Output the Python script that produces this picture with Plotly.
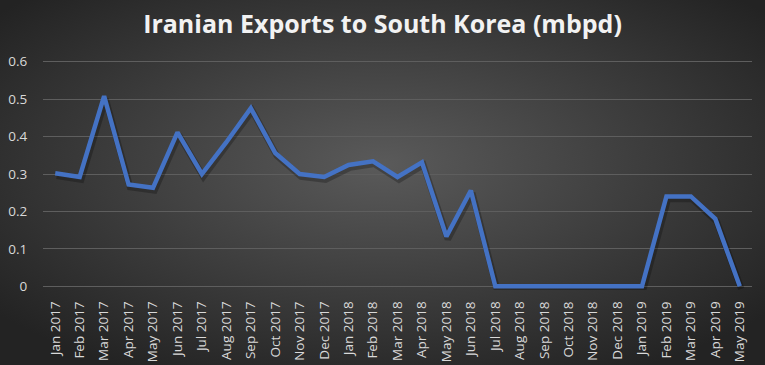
import plotly.graph_objects as go
import base64

months = ["Jan 2017", "Feb 2017", "Mar 2017", "Apr 2017", "May 2017", "Jun 2017", "Jul 2017",
          "Aug 2017", "Sep 2017", "Oct 2017", "Nov 2017", "Dec 2017", "Jan 2018", "Feb 2018",
          "Mar 2018", "Apr 2018", "May 2018", "Jun 2018", "Jul 2018", "Aug 2018", "Sep 2018",
          "Oct 2018", "Nov 2018", "Dec 2018", "Jan 2019", "Feb 2019", "Mar 2019", "Apr 2019",
          "May 2019"]
exports = [0.302, 0.292, 0.508, 0.272, 0.263, 0.411, 0.300, 0.385, 0.476, 0.356, 0.300,
           0.292, 0.324, 0.334, 0.292, 0.331, 0.133, 0.256, 0.0, 0.0, 0.0, 0.0, 0.0, 0.0,
           0.0, 0.240, 0.240, 0.180, 0.0]
y_ticks = [0, 0.1, 0.2, 0.3, 0.4, 0.5, 0.6]
y_tick_text = ["0", "0.1", "0.2", "0.3", "0.4", "0.5", "0.6"]

svg = """<svg xmlns='http://www.w3.org/2000/svg' width='765' height='365' preserveAspectRatio='none'>
<defs><radialGradient id='g' cx='50%' cy='45%' r='65%'>
<stop offset='0%' stop-color='#5a5a5a'/><stop offset='100%' stop-color='#232323'/>
</radialGradient></defs><rect width='765' height='365' fill='url(#g)'/></svg>"""
bg_src = "data:image/svg+xml;base64," + base64.b64encode(svg.encode()).decode()

L, R, T, B = 43, 13, 58, 75
PW, PH = 765 - L - R, 365 - T - B
XR = [-0.5, 28.5]
YR = [-0.01, 0.61]
dx, dy = 0.06, 0.007  # shadow offset (about 1.5px right, 2.5px down)

fig = go.Figure()
# soft shadow on hidden primary axes (slightly offset ranges)
fig.add_trace(go.Scatter(
    x=months, y=exports, mode="lines", xaxis="x", yaxis="y",
    line=dict(color="rgba(0,0,0,0.25)", width=6.5),
    hoverinfo="skip", showlegend=False,
))
# main line on the visible overlay axes
fig.add_trace(go.Scatter(
    x=months, y=exports, mode="lines", xaxis="x2", yaxis="y2",
    line=dict(color="#4472C4", width=4.5),
    hoverinfo="x+y", showlegend=False,
))

fig.update_layout(
    width=765, height=365,
    margin=dict(l=L, r=R, t=T, b=B, autoexpand=False),
    paper_bgcolor="#3a3a3a",
    plot_bgcolor="rgba(0,0,0,0)",
    title=dict(text="<b>Iranian Exports to South Korea (mbpd)</b>", x=0.5, xanchor="center",
               y=1 - 24 / 365, yanchor="middle",
               font=dict(family="Open Sans, sans-serif", size=25, color="#f2f2f2")),
    images=[dict(source=bg_src, xref="paper", yref="paper", x=-L / PW, y=1 + T / PH,
                 sizex=765 / PW, sizey=365 / PH, sizing="stretch", layer="below",
                 xanchor="left", yanchor="top")],
    font=dict(family="Open Sans, sans-serif", color="#d9d9d9"),
    xaxis=dict(type="category", categoryarray=months, range=[XR[0] - dx, XR[1] - dx],
               visible=False, automargin=False),
    yaxis=dict(range=[YR[0] + dy, YR[1] + dy], visible=False, automargin=False),
    xaxis2=dict(
        type="category", categoryarray=months, range=XR, overlaying="x", side="bottom",
        anchor="y2", tickangle=-90, automargin=False,
        tickfont=dict(size=13.5, color="#d9d9d9"),
        showgrid=False, showline=False, zeroline=False,
        ticks="outside", ticklen=5, tickcolor="rgba(0,0,0,0)",
    ),
    yaxis2=dict(
        range=YR, tickvals=y_ticks, ticktext=y_tick_text, overlaying="y", side="left",
        anchor="x2", automargin=False,
        tickfont=dict(size=13.5, color="#d9d9d9"),
        showgrid=True, gridcolor="#5e5e5e", gridwidth=1, zeroline=False,
        ticks="outside", ticklen=12, tickcolor="rgba(0,0,0,0)",
    ),
)

fig.write_html("out.html", config={"displayModeBar": False},
               post_script="document.body.style.margin='0';document.body.style.background='#262626';")
